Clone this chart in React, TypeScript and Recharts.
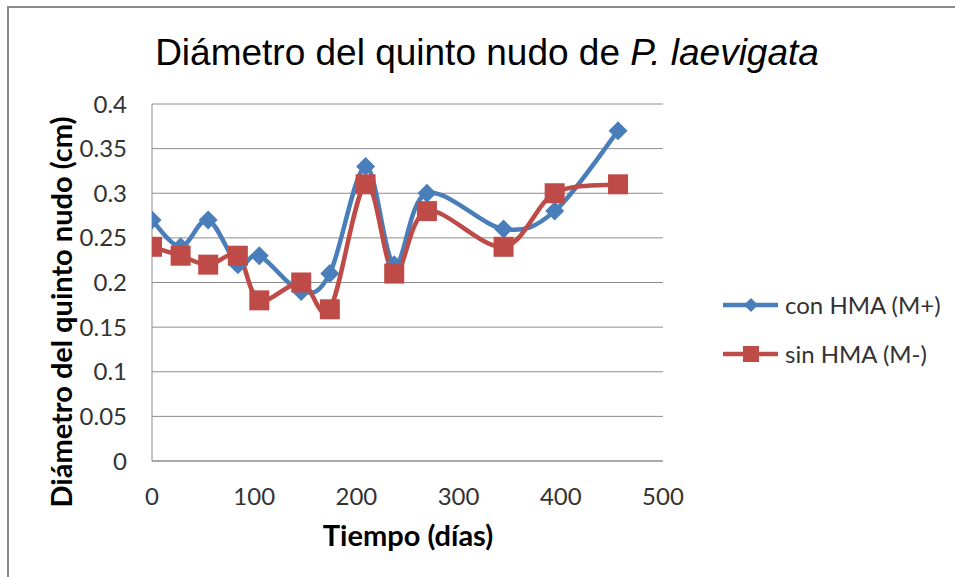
import { LineChart, Line, XAxis, YAxis, CartesianGrid, Legend, Label } from "recharts";

const days = [0, 28, 55, 84, 105, 146, 174, 209, 237, 269, 344, 394, 456];
const conHMA = [0.27, 0.24, 0.27, 0.22, 0.23, 0.19, 0.21, 0.33, 0.22, 0.3, 0.26, 0.28, 0.37];
const sinHMA = [0.24, 0.23, 0.22, 0.23, 0.18, 0.2, 0.17, 0.31, 0.21, 0.28, 0.24, 0.3, 0.31];
const xTicks = [0, 100, 200, 300, 400, 500];
const yTicks = [0, 0.05, 0.1, 0.15, 0.2, 0.25, 0.3, 0.35, 0.4];

const seriesNames = ["con HMA (M+)", "sin HMA (M-)"];

const data = days.map((d, i) => ({ day: d, con: conHMA[i], sin: sinHMA[i] }));

const BLUE = "#4A7EBB";
const RED = "#BE4B48";
const TICK_FONT = "Lato, 'Open Sans', sans-serif";

// smoothed line like Excel's (catmull-rom style bezier)
const smoothCurve = (context: any) => {
  let pts: number[][] = [];
  return {
    areaStart() {},
    areaEnd() {},
    lineStart() {
      pts = [];
    },
    point(x: number, y: number) {
      pts.push([+x, +y]);
    },
    lineEnd() {
      if (!pts.length) return;
      context.moveTo(pts[0][0], pts[0][1]);
      for (let i = 0; i < pts.length - 1; i++) {
        const p0 = pts[i - 1] || pts[i];
        const p1 = pts[i];
        const p2 = pts[i + 1];
        const p3 = pts[i + 2] || p2;
        context.bezierCurveTo(
          p1[0] + (p2[0] - p0[0]) / 6,
          p1[1] + (p2[1] - p0[1]) / 6,
          p2[0] - (p3[0] - p1[0]) / 6,
          p2[1] - (p3[1] - p1[1]) / 6,
          p2[0],
          p2[1]
        );
      }
    },
  };
};

const Diamond = (props: any) => {
  const { cx, cy, index } = props;
  const r = 9.5;
  return (
    <path
      key={`dia-${index}`}
      d={`M${cx},${cy - r}L${cx + r},${cy}L${cx},${cy + r}L${cx - r},${cy}Z`}
      fill={BLUE}
    />
  );
};

const Square = (props: any) => {
  const { cx, cy, index } = props;
  return <rect key={`sq-${index}`} x={cx - 10} y={cy - 10} width={20} height={20} fill={RED} />;
};

const LegendBox = () => (
  <div style={{ fontFamily: TICK_FONT, fontSize: 24, color: "#333" }}>
    {seriesNames.map((name, i) => (
      <div key={name} style={{ display: "flex", alignItems: "center", height: 49 }}>
        <svg width={60} height={24}>
          <line x1={0} y1={12} x2={55} y2={12} stroke={i === 0 ? BLUE : RED} strokeWidth={4.5} />
          {i === 0 ? (
            <path d="M28,5L35,12L28,19L21,12Z" fill={BLUE} />
          ) : (
            <rect x={20} y={4} width={16} height={16} fill={RED} />
          )}
        </svg>
        <span style={{ marginLeft: 2 }}>{name}</span>
      </div>
    ))}
  </div>
);

export default function App() {
  return (
    <>
      <style>{`body{margin:0;overflow:hidden;background:#fff}`}</style>
      <div
        style={{
          position: "absolute",
          left: 7,
          top: 6,
          width: 948,
          height: 571,
          borderTop: "2px solid #8a8a8a",
          borderLeft: "2px solid #8a8a8a",
          boxSizing: "border-box",
          background: "#fff",
        }}
      >
        <div style={{ position: "absolute", left: -2, top: -2 }}>
          <LineChart
            width={948}
            height={571}
            data={data}
            margin={{ top: 98, right: 292, left: 0, bottom: 0 }}
          >
            <text
              x={480}
              y={59}
              textAnchor="middle"
              fontFamily="'Liberation Sans', Arial, sans-serif"
              fontSize={37}
              fill="#000"
            >
              Diámetro del quinto nudo de <tspan fontStyle="italic">P. laevigata</tspan>
            </text>
            <CartesianGrid vertical={false} stroke="#8c8c8c" strokeWidth={1} />
            <XAxis
              dataKey="day"
              type="number"
              domain={[0, 500]}
              ticks={xTicks}
              height={116}
              tickLine={false}
              tickSize={0}
              tickMargin={27}
              stroke="#8c8c8c"
              tick={{ fill: "#333", fontSize: 24, fontFamily: TICK_FONT }}
              allowDataOverflow
            >
              <Label
                content={() => (
                  <text
                    x={401}
                    y={540}
                    textAnchor="middle"
                    fontFamily={TICK_FONT}
                    fontWeight="bold"
                    fontSize={29}
                    fill="#000"
                  >
                    Tiempo (días)
                  </text>
                )}
              />
            </XAxis>
            <YAxis
              type="number"
              domain={[0, 0.4]}
              ticks={yTicks}
              width={145}
              tickLine={false}
              tickSize={0}
              tickMargin={25}
              stroke="#8c8c8c"
              tick={{ fill: "#333", fontSize: 24, fontFamily: TICK_FONT }}
            >
              <Label
                content={() => (
                  <text
                    x={65}
                    y={306}
                    transform="rotate(-90 65 306)"
                    textAnchor="middle"
                    fontFamily={TICK_FONT}
                    fontWeight="bold"
                    fontSize={29}
                    fill="#000"
                  >
                    Diámetro del quinto nudo (cm)
                  </text>
                )}
              />
            </YAxis>
            <Legend
              layout="vertical"
              align="center"
              verticalAlign="middle"
              content={<LegendBox />}
              wrapperStyle={{ position: "absolute", left: 716, top: 274, width: 230 }}
            />
            <Line
              dataKey="con"
              name={seriesNames[0]}
              type={smoothCurve as any}
              stroke={BLUE}
              strokeWidth={4.5}
              dot={Diamond}
              activeDot={false}
              isAnimationActive={false}
            />
            <Line
              dataKey="sin"
              name={seriesNames[1]}
              type={smoothCurve as any}
              stroke={RED}
              strokeWidth={4.5}
              dot={Square}
              activeDot={false}
              isAnimationActive={false}
            />
          </LineChart>
        </div>
      </div>
    </>
  );
}
